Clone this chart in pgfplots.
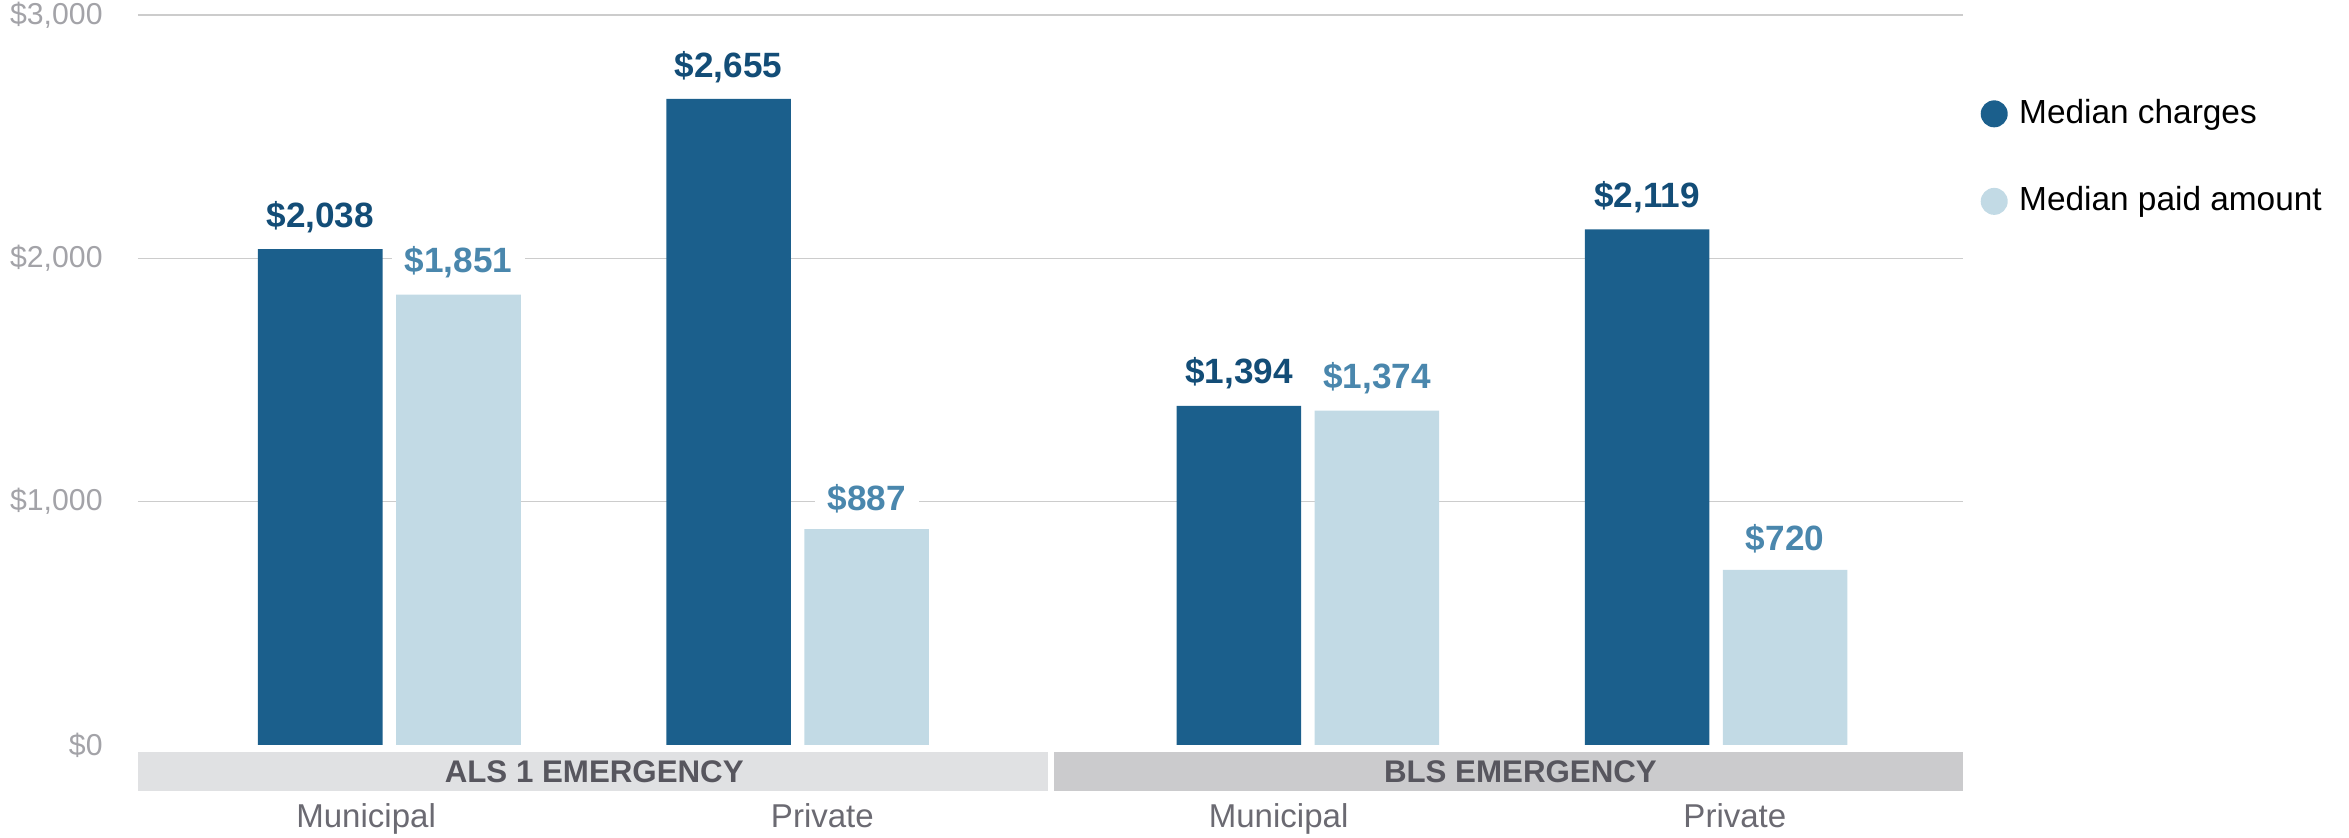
\documentclass[border=0pt]{standalone}
\usepackage{fontspec}
\setmainfont{Liberation Sans}
\usepackage{pgfplots}
\pgfplotsset{compat=1.18}
\definecolor{charges}{HTML}{1B5F8C}
\definecolor{chargestxt}{HTML}{134D77}
\definecolor{paid}{HTML}{C2DAE5}
\definecolor{paidtxt}{HTML}{4A87AD}
\definecolor{bandA}{HTML}{E0E1E3}
\definecolor{bandB}{HTML}{CBCBCD}
\definecolor{bandtxt}{HTML}{57565E}
\definecolor{cattxt}{HTML}{6B6A72}
\definecolor{ticktxt}{HTML}{A3A3A8}
\definecolor{gridc}{HTML}{CCCCCC}

\begin{document}
\begin{tikzpicture}
\useasboundingbox (-1.38cm,-0.93cm) rectangle (22.11cm,7.45cm);
\begin{axis}[
  at={(0,0)}, anchor=south west,
  width=18.25cm, height=7.30cm, scale only axis,
  xmin=0, xmax=8, ymin=0, ymax=3000,
  clip=false,
  axis line style={draw=none},
  major tick length=0,
  ymajorgrids, grid style={gridc, line width=0.45pt},
  ytick={1000,2000,3000},
  extra y ticks={0}, extra y tick style={grid=none},
  yticklabel={\$\pgfmathprintnumber{\tick}},
  yticklabel style={font=\fontsize{8.6}{10}\selectfont, text=ticktxt, xshift=-0.23cm},
  xtick={1,3,5,7},
  xticklabels={Municipal,Private,Municipal,Private},
  xticklabel style={font=\fontsize{9.4}{11}\selectfont, text=cattxt, anchor=base, yshift=-0.83cm},
  /pgf/number format/.cd, fixed, precision=0, 1000 sep={,}, assume math mode=true,
  /pgfplots/.cd,
  legend style={at={(axis description cs:1.0,0.905)}, anchor=north west, draw=none, fill=none,
    font=\fontsize{9.5}{11}\selectfont, row sep=0.44cm, cells={anchor=west},
    inner xsep=0.17cm},
  legend image code/.code={\fill[#1] (0.13cm,0) circle (0.135cm); \path (0.31cm,0);},
]
\fill[bandA] (axis cs:0,-29) rectangle (axis cs:3.99,-189);
\fill[bandB] (axis cs:4.015,-29) rectangle (axis cs:8.0,-189);
\node[font=\bfseries\fontsize{8.9}{10}\selectfont, text=bandtxt] at (axis cs:2.0,-109) {ALS 1 EMERGENCY};
\node[font=\bfseries\fontsize{8.9}{10}\selectfont, text=bandtxt] at (axis cs:6.06,-109) {BLS EMERGENCY};

\addplot[ybar, bar width=0.546, bar shift=0pt, fill=charges, draw=none,
  point meta=y, nodes near coords={\textbf{\$\pgfmathprintnumber{\pgfplotspointmeta}}},
  every node near coord/.append style={font=\fontsize{10}{12}\selectfont, text=chargestxt,
    anchor=south, fill=white, inner xsep=0.13cm, inner ysep=0.5pt, yshift=0.14cm}]
  coordinates {(0.799,2038) (2.589,2655) (4.826,1394) (6.615,2119)};
\addlegendentry{Median charges}
\addplot[ybar, bar width=0.546, bar shift=0pt, fill=paid, draw=none,
  point meta=y, nodes near coords={\textbf{\$\pgfmathprintnumber{\pgfplotspointmeta}}},
  every node near coord/.append style={font=\fontsize{10}{12}\selectfont, text=paidtxt,
    anchor=south, fill=white, inner xsep=0.13cm, inner ysep=0.5pt, yshift=0.14cm}]
  coordinates {(1.405,1851) (3.194,887) (5.431,1374) (7.220,720)};
\addlegendentry{Median paid amount}
\end{axis}
\end{tikzpicture}
\end{document}
